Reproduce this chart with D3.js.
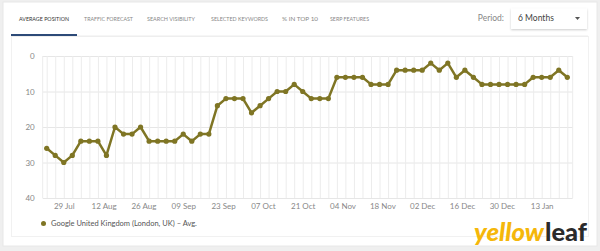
<!DOCTYPE html>
<html>
<head>
<meta charset="utf-8">
<script src="https://cdn.jsdelivr.net/npm/d3@7"></script>
<style>
  body { margin: 0; background: #efefef; font-family: Lato, "Open Sans", sans-serif; }
  svg { display: block; }
</style>
</head>
<body>
<div id="chart"></div>
<script>
// data
var dates = ["2019-07-23","2019-07-26","2019-07-29","2019-08-01","2019-08-04","2019-08-07","2019-08-10","2019-08-13","2019-08-16","2019-08-19",
  "2019-08-22","2019-08-25","2019-08-28","2019-08-31","2019-09-03","2019-09-06","2019-09-09","2019-09-12","2019-09-15","2019-09-18",
  "2019-09-21","2019-09-24","2019-09-27","2019-09-30","2019-10-03","2019-10-06","2019-10-09","2019-10-12","2019-10-15","2019-10-18",
  "2019-10-21","2019-10-24","2019-10-27","2019-10-30","2019-11-02","2019-11-05","2019-11-08","2019-11-11","2019-11-14","2019-11-17",
  "2019-11-20","2019-11-23","2019-11-26","2019-11-29","2019-12-02","2019-12-05","2019-12-08","2019-12-11","2019-12-14","2019-12-17",
  "2019-12-20","2019-12-23","2019-12-26","2019-12-29","2020-01-01","2020-01-04","2020-01-07","2020-01-10","2020-01-13","2020-01-16",
  "2020-01-19","2020-01-22"];
var avgPosition = [26,28,30,28,24,24,24,28,20,22, 22,20,24,24,24,24,22,24,22,22,
  14,12,12,12,16,14,12,10,10,8, 10,12,12,12,6,6,6,6,8,8,
  8,4,4,4,4,2,4,2,6,4, 6,8,8,8,8,8,8,6,6,6, 4,6];
var tickDates = ["2019-07-29","2019-08-12","2019-08-26","2019-09-09","2019-09-23","2019-10-07","2019-10-21",
  "2019-11-04","2019-11-18","2019-12-02","2019-12-16","2019-12-30","2020-01-13"];
var yTicks = [0, 10, 20, 30, 40];
var tabs = ["AVERAGE POSITION", "TRAFFIC FORECAST", "SEARCH VISIBILITY", "SELECTED KEYWORDS", "% IN TOP 10", "SERP FEATURES"];
var seriesName = "Google United Kingdom (London, UK) \u2013 Avg.";
var periodLabel = "6 Months";

var parseDate = d3.timeParse("%Y-%m-%d");
var data = dates.map(function (d, i) { return { date: parseDate(d), value: avgPosition[i] }; });

var W = 600, H = 251;
var svg = d3.select("#chart").append("svg").attr("width", W).attr("height", H);

// card
svg.append("rect").attr("x", 3).attr("y", 2).attr("width", 594).attr("height", 244)
  .attr("fill", "#fff").attr("stroke", "#e8e8e8");
svg.append("rect").attr("x", 11.5).attr("y", 36.5).attr("width", 577).attr("height", 200)
  .attr("fill", "#fff").attr("stroke", "#f1f1f1");

// tabs
var tabX = [19, 84, 147, 211, 282, 330];
var tabW = [50, 49, 48, 57, 36, 39];
svg.selectAll(".tab").data(tabs).enter().append("text")
  .attr("class", "tab")
  .attr("x", function (d, i) { return tabX[i]; })
  .attr("y", 20.5)
  .attr("textLength", function (d, i) { return tabW[i]; })
  .attr("lengthAdjust", "spacingAndGlyphs")
  .attr("font-size", "6.3px")
  .attr("fill", function (d, i) { return i === 0 ? "#333" : "#888"; })
  .text(function (d) { return d; });
svg.append("line").attr("x1", 11).attr("x2", 588).attr("y1", 36).attr("y2", 36)
  .attr("stroke", "#ececec");
svg.append("rect").attr("x", 11).attr("y", 34).attr("width", 66).attr("height", 2)
  .attr("fill", "#2d4a78");

// period dropdown
svg.append("text").attr("x", 504).attr("y", 21).attr("text-anchor", "end")
  .attr("font-size", "8.5px").attr("fill", "#888").text("Period:");
var defs = svg.append("defs");
var f = defs.append("filter").attr("id", "sh").attr("x", "-10%").attr("y", "-30%").attr("width", "120%").attr("height", "170%");
f.append("feDropShadow").attr("dx", 0).attr("dy", 1).attr("stdDeviation", 1).attr("flood-color", "#000").attr("flood-opacity", 0.2);
svg.append("rect").attr("x", 511).attr("y", 8.5).attr("width", 76).attr("height", 20.5)
  .attr("fill", "#fff").attr("filter", "url(#sh)");
svg.append("text").attr("x", 518).attr("y", 21).attr("font-size", "8.5px").attr("fill", "#444").text(periodLabel);
svg.append("path").attr("d", "M575,17 l5,0 l-2.5,3 z").attr("fill", "#555");

// plot area
var plotL = 42.7, plotR = 572.7, plotT = 56, plotB = 198;
var x = d3.scaleTime()
  .domain(d3.extent(data, function (d) { return d.date; }))
  .range([46.7, 567.3]);
var y = d3.scaleLinear().domain([0, 40]).range([plotT, plotB]);

// horizontal grid + y labels
var yAxis = svg.append("g").attr("transform", "translate(" + plotL + ",0)")
  .call(d3.axisLeft(y).tickValues(yTicks).tickSize(-(plotR - plotL)).tickPadding(8));
yAxis.select(".domain").remove();
yAxis.selectAll("line").attr("stroke", "#e6e6e6");
yAxis.selectAll("text").attr("font-size", "8px").attr("fill", "#888").attr("font-family", "Lato");

// vertical grid at every point
var vGrid = svg.append("g").attr("transform", "translate(0," + plotB + ")")
  .call(d3.axisBottom(x).tickValues(data.map(function (d) { return d.date; })).tickSize(-(plotB - plotT)).tickFormat(""));
vGrid.select(".domain").remove();
vGrid.selectAll("line").attr("stroke", "#ececec");
svg.append("line").attr("x1", plotL).attr("x2", plotL).attr("y1", plotT).attr("y2", plotB).attr("stroke", "#ececec");
svg.append("line").attr("x1", plotR).attr("x2", plotR).attr("y1", plotT).attr("y2", plotB).attr("stroke", "#ececec");

// x labels
var xAxis = svg.append("g").attr("transform", "translate(0," + plotB + ")")
  .call(d3.axisBottom(x).tickValues(tickDates.map(parseDate)).tickFormat(d3.timeFormat("%d %b")).tickSize(0).tickPadding(5));
xAxis.select(".domain").remove();
xAxis.selectAll("text").attr("font-size", "8px").attr("fill", "#888").attr("font-family", "Lato");

// series
var lineColor = "#7f7524";
svg.append("path").datum(data)
  .attr("fill", "none").attr("stroke", lineColor).attr("stroke-width", 2.5)
  .attr("stroke-linejoin", "round")
  .attr("d", d3.line().x(function (d) { return x(d.date); }).y(function (d) { return y(d.value); }));
svg.selectAll(".pt").data(data).enter().append("circle")
  .attr("class", "pt")
  .attr("cx", function (d) { return x(d.date); })
  .attr("cy", function (d) { return y(d.value); })
  .attr("r", 2.6).attr("fill", lineColor);

// legend
svg.append("circle").attr("cx", 43.5).attr("cy", 223.5).attr("r", 2.5).attr("fill", lineColor);
svg.append("text").attr("x", 51).attr("y", 226.3).attr("font-size", "7.5px").attr("fill", "#555").text(seriesName);

// logo
svg.append("text").attr("x", 474).attr("y", 241).attr("font-size", "24px")
  .attr("font-family", "Lato, 'Open Sans', sans-serif").attr("font-weight", 900)
  .attr("font-style", "italic").attr("fill", "#f5b70a")
  .attr("textLength", 70).attr("lengthAdjust", "spacingAndGlyphs").text("yellow");
svg.append("text").attr("x", 545).attr("y", 241).attr("font-size", "24px")
  .attr("font-family", "Lato, 'Open Sans', sans-serif").attr("font-weight", 900)
  .attr("fill", "#2b2b2b")
  .attr("textLength", 42).attr("lengthAdjust", "spacingAndGlyphs").text("leaf");
</script>
</body>
</html>
